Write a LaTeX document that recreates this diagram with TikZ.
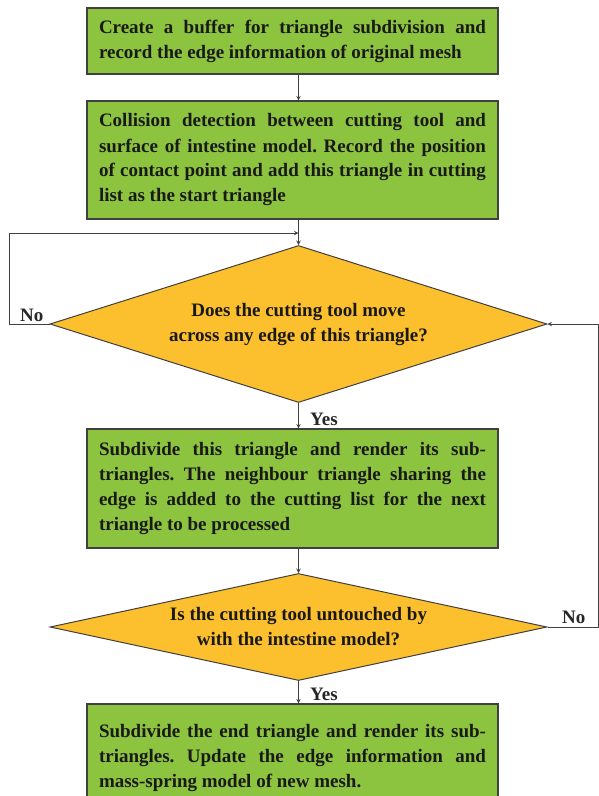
\documentclass[tikz,border=0pt]{standalone}
\usepackage{fontspec}
\setmainfont{Liberation Serif}
\usetikzlibrary{shapes.geometric}
\definecolor{boxgreen}{RGB}{141,196,63}
\definecolor{askyellow}{RGB}{252,191,45}
\definecolor{edgegray}{RGB}{64,64,64}
\frenchspacing
\begin{document}
\begin{tikzpicture}[x=1pt,y=-1pt,
	font=\fontsize{19}{25}\selectfont\bfseries,
	stepbox/.style={draw=edgegray,line width=1.2pt,fill=boxgreen,text width=387pt,inner xsep=12pt,inner ysep=3pt,align=justify,text=black!90},
	askbox/.style={diamond,draw=edgegray,line width=1pt,fill=askyellow,minimum width=497pt,inner sep=0pt,align=center,text=black!90},
	flow/.style={draw=edgegray,line width=1pt,-stealth},
	tag/.style={inner sep=0pt,anchor=base west,text=black!85}]
	\useasboundingbox (0,0) rectangle (599,796);
	\clip (0,0) rectangle (599,796);

	\node[stepbox,minimum height=66pt] (buffer) at (292.5,41) {Create a buffer for triangle subdivision and\linebreak record the edge information of original mesh};
	\node[stepbox,minimum height=118pt] (collide) at (292.5,160) {Collision detection between cutting tool and\linebreak surface of intestine model. Record the position\linebreak of contact point and add this triangle in cutting\linebreak list as the start triangle};
	\node[askbox,minimum height=157pt,aspect=3.17] (cross) at (298.5,324) {Does the cutting tool move\\across any edge of this triangle?};
	\node[stepbox,minimum height=119pt] (subdiv) at (292.5,488.5) {Subdivide this triangle and render its sub-\linebreak triangles. The neighbour triangle sharing the\linebreak edge is added to the cutting list for the next\linebreak triangle to be processed};
	\node[askbox,minimum height=107pt,aspect=4.65] (untouch) at (298.5,627) {Is the cutting tool untouched by\\with the intestine model?};
	\node[stepbox,minimum height=107pt] (endtri) at (292.5,757.5) {Subdivide the end triangle and render its sub-\linebreak triangles. Update the edge information and\linebreak mass-spring model of new mesh.};

	\coordinate (loopl) at (9,233);
	\coordinate (loopr) at (598,627);

	\draw[flow] (buffer.south -| cross.north) -- (collide.north -| cross.north);
	\draw[flow] (collide.south -| cross.north) -- (cross.north);
	\draw[flow] (cross.west) -| (loopl) -- (loopl -| cross.north);
	\draw[flow] (cross.south) -- (subdiv.north -| cross.south);
	\draw[flow] (subdiv.south -| untouch.north) -- (untouch.north);
	\draw[flow] (untouch.south) -- (endtri.north -| untouch.south);
	\draw[flow] (untouch.east) -- (loopr) |- (cross.east);

	\node[tag] (nocross) at (20,321) {No};
	\node[tag] (yescross) at (310,425) {Yes};
	\node[tag] (nountouch) at (562,623) {No};
	\node[tag] (yesuntouch) at (310,700) {Yes};
\end{tikzpicture}
\end{document}
